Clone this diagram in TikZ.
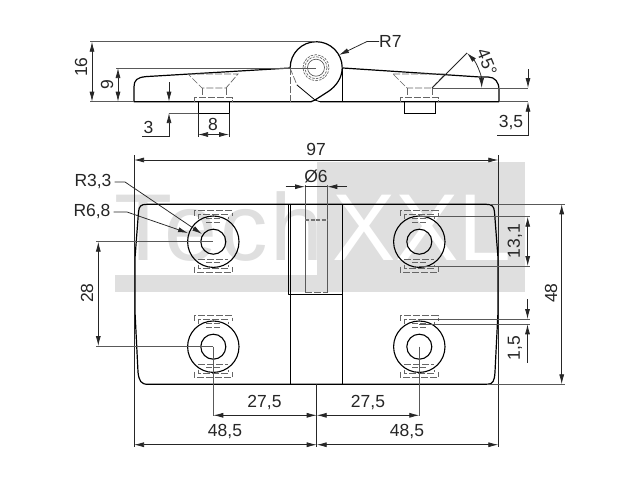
\documentclass[tikz,border=0pt]{standalone}
\usepackage{fontspec}
\setmainfont{Liberation Sans}
\usetikzlibrary{arrows.meta}
\definecolor{wm}{HTML}{DFDFDF}
\tikzset{
  outline/.style={line width=1.2pt,black,line join=round},
  thinout/.style={line width=0.8pt,black},
  dimline/.style={line width=0.75pt,black!85},
  extline/.style={line width=0.9pt,black!65},
  hidden/.style={line width=0.7pt,black!60,dash pattern=on 7pt off 2pt},
  hiddenb/.style={line width=0.9pt,black!55,dash pattern=on 6pt off 2pt},
  tip/.style={-{Latex[length=10pt,width=5pt]}},
  tips/.style={{Latex[length=10pt,width=5pt]}-{Latex[length=10pt,width=5pt]}},
  lbl/.style={font=\fontsize{17.5}{17.5}\selectfont,inner sep=0pt,text=black!85},
  wmtext/.style={font=\fontsize{95}{95}\selectfont,inner sep=0pt,anchor=base west}
}
\begin{document}
\begin{tikzpicture}[x=1pt,y=-1pt]
\useasboundingbox (0,0) rectangle (640,480);
\fill[white] (0,0) rectangle (640,480);
% watermark
\fill[wm] (316.7,162) rectangle (525,292);
\fill[wm] (115,275) rectangle (525,292);
\node[wmtext,text=wm] (wmA) at (114,260) {\addfontfeature{LetterSpace=3}Tech};
\node[wmtext,text=white] (wmB) at (332,260) {XXL};
% ===== side view =====
\draw[outline] (290,68) -- (146,76.6) .. controls (137,77.5) and (134,80) .. (134,87) -- (134,101.7) -- (311,101.7);
\draw[outline] (343,68) -- (480,77) -- (488,77) .. controls (495,77) and (499,82) .. (499,90) -- (499,101.7) -- (320,101.7);
\draw[outline] (342.2,67.7) arc[start angle=0,end angle=-180,radius=26];
\draw[outline] (342.2,67.7) .. controls (342.2,78) and (336,86) .. (329,91) -- (315,100) -- (311,101.7);
\draw[outline] (342.5,68) -- (342.5,101.7);
\draw[thinout] (297,85) -- (315,100) -- (320,101.7);
\draw[hidden] (290,68) -- (290,101.7);
\draw[hidden] (290,68) -- (297,85);
\draw[line width=0.6pt,black!70] (316,67.7) circle[radius=8.5];
\draw[hidden,dash pattern=on 2.5pt off 1.2pt] (316,67.7) circle[radius=11];
\draw[hidden,dash pattern=on 2.5pt off 1.2pt] (316,67.7) circle[radius=13];
\draw[extline] (290,68) -- (316,68);
% left screw
\draw[hidden] (188,74) -- (238,74) -- (226,88) -- (202,88) -- cycle;
\draw[hidden] (202,88) -- (202,97);
\draw[hidden] (226,88) -- (226,97);
\draw[hidden] (194,101.7) -- (194,97.5) -- (232,97.5) -- (232,101.7);
\draw[line width=1pt] (198,101.7) -- (198,113) -- (229,113) -- (229,101.7);
% right screw
\draw[hidden] (393,74) -- (445,74) -- (432,88) -- (407,88) -- cycle;
\draw[hidden] (407,88) -- (407,97);
\draw[hidden] (432,88) -- (432,97);
\draw[hidden] (400,101.7) -- (400,97.5) -- (438,97.5) -- (438,101.7);
\draw[line width=1pt] (404,101.7) -- (404,113) -- (435,113) -- (435,101.7);
% side dims
\draw[extline] (90,41.7) -- (316,41.7);
\draw[extline] (90,101.7) -- (134,101.7);
\draw[dimline,tips] (92,41.7) -- (92,101.7);
\node[lbl,rotate=90] (d16) at (81,67) {16};
\draw[extline] (116,68) -- (290,68);
\draw[dimline,tips] (118,68) -- (118,101.7);
\node[lbl,rotate=90] (d9) at (107,85) {9};
\draw[dimline,tip] (169,82) -- (169,101.7);
\draw[dimline,tip] (142,136.5) -- (169,136.5) -- (169,113);
\draw[extline] (169,113) -- (198,113);
\node[lbl] (d3) at (148.5,127) {3};
\draw[dimline] (198,113) -- (198,137);
\draw[dimline] (229,113) -- (229,137);
\draw[dimline,tips] (198,134.5) -- (229,134.5);
\node[lbl] (d8) at (213,124) {8};
% R7
\node[lbl,anchor=west] (r7) at (379,41.5) {R7};
\coordinate (r7tip) at (339,55);
\draw[dimline,tip] (r7.west) -- (367,41.5) -- (r7tip);
% 45 deg
\draw[dimline] (432,88) -- (467,53);
\draw[dimline,tips] (467,53) .. controls (476,62) and (481.5,75) .. (481.7,88);
\draw[extline] (432,88) -- (528,88);
\draw[extline] (499,101.7) -- (528,101.7);
\node[lbl,rotate=-68] (d45) at (487,62) {45°};
% 3,5
\draw[dimline,tip] (528,69) -- (528,88);
\draw[dimline,tip] (497,135) -- (528,135) -- (528,101.7);
\node[lbl] (d35) at (511,122.5) {3,5};
% ===== plan view =====
\draw[outline] (288.7,204.3) -- (147,204.3) .. controls (141,204.3) and (139,206) .. (138.5,212) -- (135,258) -- (135,312) -- (138,372) .. controls (139,381) and (141,384.3) .. (148,384.3) -- (487,384.3) .. controls (493,384.3) and (494.5,381) .. (495,372) -- (498,312) -- (498,258) -- (494.5,212) .. controls (494,206) and (492,204.3) .. (486,204.3) -- cycle;
\draw[outline] (288.7,204.3) -- (288.7,294.5) -- (342.7,294.5);
\draw[outline] (290.7,204.3) -- (290.7,384.3);
\draw[outline] (342.7,204.3) -- (342.7,384.3);
\draw[extline] (305,185) -- (305,293);
\draw[extline] (327.3,185) -- (327.3,293);
\draw[hiddenb,line width=1.4pt,dash pattern=on 4pt off 1.5pt] (305,220) -- (327.3,220);
\draw[hidden] (305,292.5) -- (327.3,292.5);
\foreach \cx/\cy in {213.3/241.7,419.3/241.7,213.3/346.7,419.3/346.7}{
  \begin{scope}[shift={(\cx,\cy)}]
    \draw[line width=1.1pt] (0,0) circle[radius=25.7];
    \draw[line width=1.1pt] (0,0) circle[radius=12.5];
    \draw[hidden] (-19,-26) -- (-19,-31) -- (19,-31) -- (19,-26);
    \draw[hidden] (-19,25) -- (-19,31) -- (19,31) -- (19,25);
    \draw[hidden] (-15,-23) -- (-15,-27) -- (15,-27) -- (15,-23);
    \draw[hidden] (-15,23) -- (-15,27) -- (15,27) -- (15,23);
    \draw[hidden,dash pattern=on 6pt off 1.5pt] (-7,-23.5) -- (7,-23.5);
    \draw[hidden,dash pattern=on 6pt off 1.5pt] (-7,-19) -- (7,-19);
    \draw[hidden] (-15,17.5) -- (15,17.5);
    \draw[hidden,dash pattern=on 6pt off 1.5pt] (-7,21) -- (7,21);
  \end{scope}
}
% plan dims
\draw[dimline] (134,155) -- (134,447);
\draw[dimline] (498.3,155) -- (498.3,447);
\draw[dimline,tips] (134,160) -- (498.3,160);
\node[lbl] (d97) at (316,149) {97};
\draw[dimline,tip] (285.7,186.7) -- (305,186.7);
\draw[dimline,tip] (347,186.7) -- (327.3,186.7);
\draw[dimline] (305,186.7) -- (327.3,186.7);
\node[lbl] (d6) at (316,176) {Ø6};
% R labels
\node[lbl] (r33) at (93,182) {R3,3};
\node[lbl] (r68) at (92,212) {R6,8};
\coordinate (r33tip) at (202,234);
\coordinate (r68tip) at (188,233);
\draw[dimline,tip] (r33.east) ++(3,0) -- (125,182) -- (r33tip);
\draw[dimline,tip] (r68.east) ++(3,0) -- (127,212) -- (r68tip);
% 28
\draw[extline] (96,241.7) -- (213.3,241.7);
\draw[extline] (96,346) -- (213.3,346);
\draw[dimline,tips] (98.3,241.7) -- (98.3,346);
\node[lbl,rotate=90] (d28) at (87,293) {28};
% horizontal bottom dims
\draw[extline] (213.3,346.7) -- (213.3,416);
\draw[extline] (419.3,346.7) -- (419.3,416);
\draw[dimline] (316.7,384.3) -- (316.7,447);
\draw[dimline,tips] (213.3,415.3) -- (316.7,415.3);
\draw[dimline,tips] (316.7,415.3) -- (419.3,415.3);
\node[lbl] (d275a) at (264.5,403) {27,5};
\node[lbl] (d275b) at (368,403) {27,5};
\draw[dimline,tips] (134,444.7) -- (316.7,444.7);
\draw[dimline,tips] (316.7,444.7) -- (498.3,444.7);
\node[lbl] (d485a) at (225,432) {48,5};
\node[lbl] (d485b) at (407,432) {48,5};
% 48
\draw[extline] (490,204.3) -- (565,204.3);
\draw[extline] (487,384.3) -- (565,384.3);
\draw[dimline,tips] (561.7,204.3) -- (561.7,384.3);
\node[lbl,rotate=90] (d48) at (551,293) {48};
% 13,1
\draw[extline] (419.3,216.7) -- (530,216.7);
\draw[extline] (419.3,266) -- (530,266);
\draw[dimline,tips] (527.7,216.7) -- (527.7,266);
\node[lbl,rotate=90] (d131) at (515,241) {13,1};
% 1,5
\draw[extline] (419.3,319) -- (530,319);
\draw[extline] (419.3,324.3) -- (530,324.3);
\draw[dimline,tip] (527.5,299) -- (527.5,319);
\draw[dimline,tip] (527.5,362.7) -- (527.5,324.3);
\node[lbl,rotate=90] (d15) at (515,348) {1,5};
\end{tikzpicture}
\end{document}
